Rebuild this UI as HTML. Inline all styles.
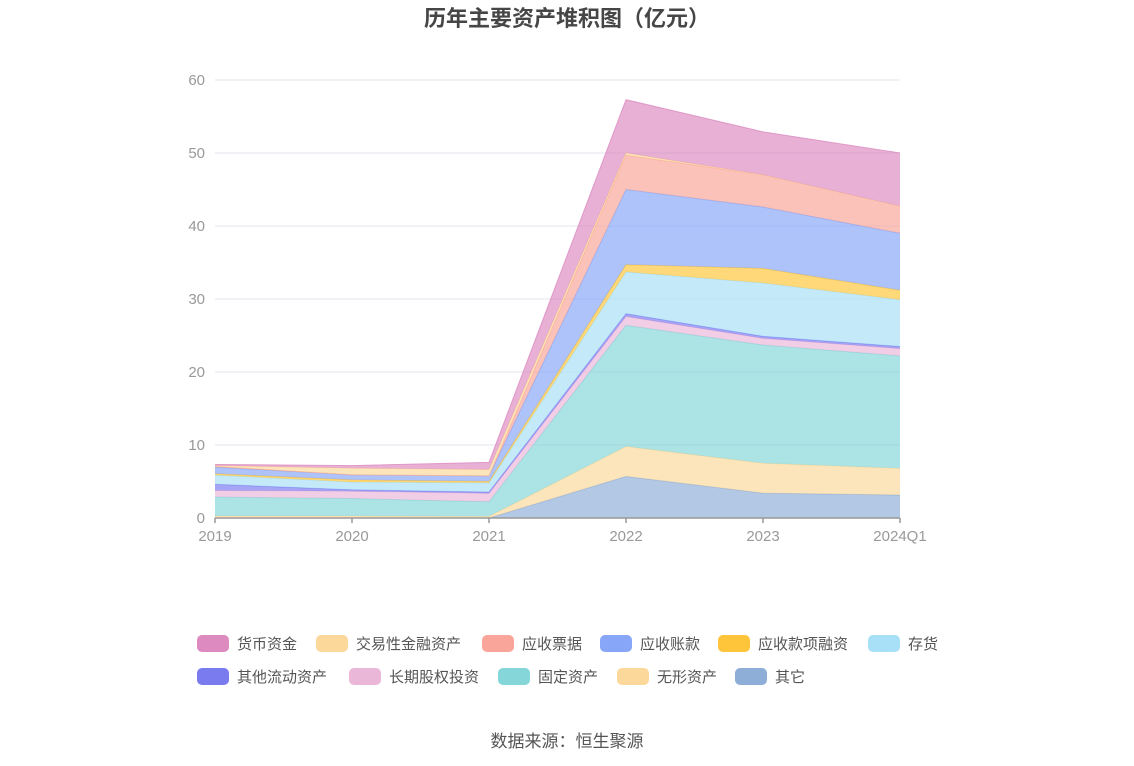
<!DOCTYPE html>
<html><head><meta charset="utf-8"><style>
body{margin:0;background:#fff;font-family:"Liberation Sans","Noto Sans CJK SC",sans-serif;}
#wrap{position:relative;width:1134px;height:766px;overflow:hidden;}
</style></head><body>
<div id="wrap">
<svg id="chart" width="1134" height="766"></svg>
</div>
<script>
const categories=["2019","2020","2021","2022","2023","2024Q1"];
const yTicks=[0,10,20,30,40,50,60];
const seriesNames=["其它","无形资产","固定资产","长期股权投资","其他流动资产","存货","应收款项融资","应收账款","应收票据","交易性金融资产","货币资金"];
const sOther=[0,0,0,5.7,3.4,3.15];
const sIntangible=[0.27,0.27,0.22,4.1,4.1,3.65];
const sFixed=[2.6,2.4,2.0,16.6,16.2,15.4];
const sLongEquity=[0.9,1.0,1.15,1.2,0.9,1.0];
const sOtherCurrent=[0.85,0.2,0.2,0.4,0.3,0.3];
const sInventory=[1.25,1.05,1.25,5.7,7.3,6.4];
const sRecvFin=[0.2,0.3,0.2,1.0,2.0,1.3];
const sRecv=[0.9,0.7,0.75,10.3,8.4,7.8];
const sNotes=[0.1,0,0,4.7,4.4,3.7];
const sTrading=[0.1,0.9,0.85,0.3,0,0];
const sCash=[0.16,0.36,1.0,7.3,5.9,7.3];
const seriesData=[sOther,sIntangible,sFixed,sLongEquity,sOtherCurrent,sInventory,sRecvFin,sRecv,sNotes,sTrading,sCash];
const colors=["#8eaed8","#fcd89b","#84d6d8","#ebb7d8","#7b7bf0","#a8e0f8","#fec53a","#88a6f8","#f9a59a","#fcd89b","#dc8ac0"];
const slugs=["other","intangible","fixed","long-equity","other-current","inventory","receivable-financing","receivable","notes-receivable","trading-assets","cash"];

const NS="http://www.w3.org/2000/svg";
const svg=document.getElementById("chart");
const X0=215,X1=900,Y0=518,Y60=80;
const xs=i=>X0+(X1-X0)*i/(categories.length-1);
const ys=v=>Y0-(Y0-Y60)*v/60;
function mk(t,a){const e=document.createElementNS(NS,t);for(const k in a)e.setAttribute(k,a[k]);svg.appendChild(e);return e;}

const title=mk("text",{x:567,y:26,"text-anchor":"middle","font-size":22,"font-weight":"bold",fill:"#464646"});
title.textContent="历年主要资产堆积图（亿元）";



yTicks.forEach(t=>{
 const g=mk("line",{x1:X0,x2:X1,y1:ys(t),y2:ys(t),stroke:"#e3e3ee","stroke-width":1});
 
 
 const l=mk("text",{x:205,y:ys(t)+5,"text-anchor":"end","font-size":15,fill:"#999"});
 l.textContent=t;
 
 
});

let base=categories.map(()=>0);
seriesData.forEach((s,si)=>{
 const top=base.map((b,i)=>b+s[i]);
 let d="M"+top.map((v,i)=>xs(i)+","+ys(v)).join("L");
 for(let i=categories.length-1;i>=0;i--)d+="L"+xs(i)+","+ys(base[i]);
 d+="Z";
 const p=mk("path",{d:d,fill:colors[si],"fill-opacity":0.68,stroke:"none"});
 
 
 const ln=mk("polyline",{points:top.map((v,i)=>xs(i)+","+ys(v)).join(" "),fill:"none",stroke:colors[si],"stroke-width":1,"stroke-opacity":0.8});
 
 
 base=top;
});

const ax=mk("line",{x1:X0,x2:X1,y1:Y0,y2:Y0,stroke:"#999","stroke-width":1.5});


categories.forEach((c,i)=>{
 const tk=mk("line",{x1:xs(i),x2:xs(i),y1:Y0,y2:Y0+5,stroke:"#999","stroke-width":1.5});
 
 
 const l=mk("text",{x:xs(i),y:541,"text-anchor":"middle","font-size":15,fill:"#999"});
 l.textContent=c;
 
 
});

const legendOrder=[10,9,8,7,6,5,4,3,2,1,0];
const legendPos=[[197,643],[316,643],[482,643],[600,643],[718,643],[868,643],[197,676],[349,676],[498,676],[617,676],[735,676]];
legendOrder.forEach((si,k)=>{
 const [lx,ly]=legendPos[k];
 const r=mk("rect",{x:lx,y:ly-8,width:32,height:17,rx:5,fill:colors[si]});
 
 
 const t=mk("text",{x:lx+40,y:ly+6,"font-size":15,fill:"#555"});
 t.textContent=seriesNames[si];
 
 
});

const src=mk("text",{x:567,y:747,"text-anchor":"middle","font-size":17,fill:"#555"});
src.textContent="数据来源：恒生聚源";


</script>
</body></html>
